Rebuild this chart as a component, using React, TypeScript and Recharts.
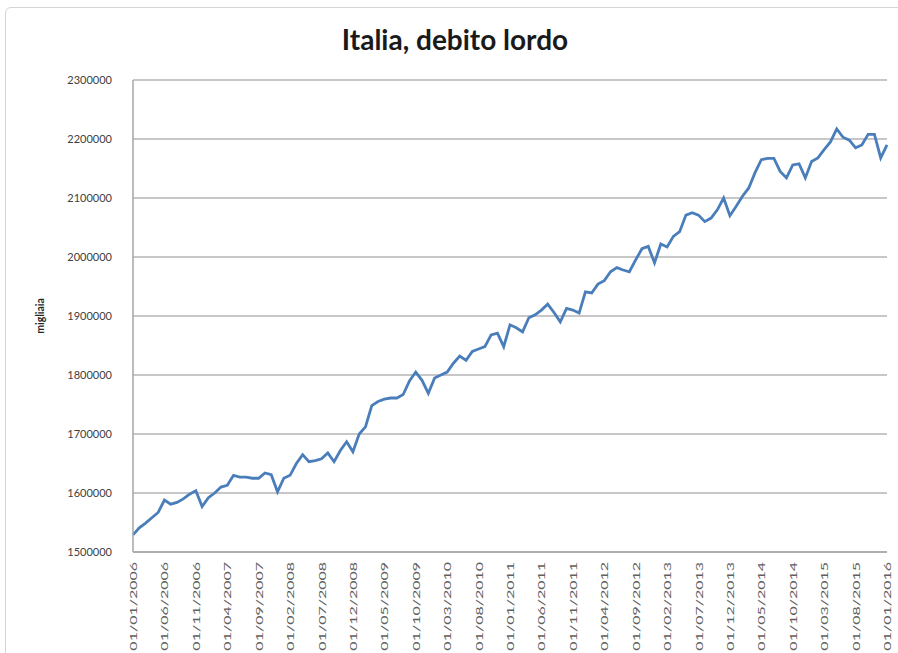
import React from 'react';
import {LineChart, Line, XAxis, YAxis, CartesianGrid} from 'recharts';

// debito lordo, migliaia di euro (mensile, gen 2006 - gen 2016)
const debito = [
  1529000, 1541000, 1549000, 1558000, 1567000, 1588000, 1581000, 1584000, 1590000, 1598000,
  1604000, 1577000, 1592000, 1600000, 1610000, 1613000, 1630000, 1627000, 1627000, 1625000,
  1625000, 1634000, 1631000, 1602000, 1625000, 1630000, 1650000, 1665000, 1653000, 1655000,
  1658000, 1668000, 1653000, 1672000, 1687000, 1670000, 1700000, 1712000, 1748000, 1755000,
  1759000, 1761000, 1761000, 1767000, 1790000, 1805000, 1791000, 1769000, 1795000, 1800000,
  1805000, 1820000, 1832000, 1825000, 1840000, 1844000, 1848000, 1868000, 1871000, 1848000,
  1885000, 1880000, 1873000, 1897000, 1902000, 1910000, 1920000, 1906000, 1890000, 1913000,
  1910000, 1905000, 1941000, 1939000, 1954000, 1960000, 1975000, 1982000, 1978000, 1975000,
  1995000, 2014000, 2018000, 1990000, 2022000, 2017000, 2035000, 2043000, 2071000, 2075000,
  2071000, 2060000, 2066000, 2080000, 2100000, 2070000, 2086000, 2103000, 2117000, 2143000,
  2165000, 2167000, 2167000, 2145000, 2134000, 2156000, 2158000, 2134000, 2162000, 2168000,
  2182000, 2195000, 2217000, 2203000, 2198000, 2185000, 2190000, 2208000, 2208000, 2168000,
  2190000,
];

const yTicks = [1500000, 1600000, 1700000, 1800000, 1900000, 2000000, 2100000, 2200000, 2300000];

const startYear = 2006;
const dates = debito.map((_, i) => {
  const m = (i % 12) + 1;
  const y = startYear + Math.floor(i / 12);
  return `01/${m < 10 ? '0' + m : m}/${y}`;
});

const data = dates.map((d, i) => ({date: d, debito: debito[i]}));

const font = 'Lato, "Open Sans", sans-serif';

const DateTick = (props: any) => {
  const {x, y, payload} = props;
  return (
    <g transform={`translate(${x + 4},${y + 10})`}>
      <text
        transform='rotate(-90) scale(1.6,1)'
        textAnchor='end'
        fontSize={10}
        fontFamily={font}
        fill='#606060'
      >
        {payload.value}
      </text>
    </g>
  );
};

const App = () => {
  return (
    <div style={{position: 'absolute', left: 0, top: 0, width: 898, height: 653, background: '#fff'}}>
      <div
        style={{
          position: 'absolute',
          left: 5,
          top: 7,
          width: 900,
          height: 660,
          border: '1.5px solid #d4d4d4',
          borderRadius: 6,
          boxSizing: 'border-box',
        }}
      />
      <div
        style={{
          position: 'absolute',
          left: 0,
          top: 22,
          width: 910,
          textAlign: 'center',
          fontFamily: font,
          fontWeight: 700,
          fontSize: 28,
          color: '#1a1a1a',
        }}
      >
        Italia, debito lordo
      </div>
      <div style={{position: 'absolute', left: 0, top: 0}}>
        <LineChart
          width={898}
          height={653}
          data={data}
          margin={{top: 80, right: 11, left: 0, bottom: 0}}
        >
          <CartesianGrid vertical={false} stroke='#b5b5b5' strokeWidth={1.5} />
          <XAxis
            dataKey='date'
            interval={4}
            height={101}
            tickLine={false}
            tickSize={0}
            tickMargin={0}
            tick={<DateTick />}
            stroke='#a6a6a6'
            strokeWidth={1.5}
          />
          <YAxis
            domain={[1500000, 2300000]}
            ticks={yTicks}
            width={133}
            tickLine={false}
            tickSize={0}
            tickMargin={21}
            stroke='#a6a6a6'
            strokeWidth={1.5}
            tick={{fontSize: 11, fontFamily: font, fill: '#404040'}}
            label={{
              value: 'migliaia',
              angle: -90,
              position: 'insideLeft',
              offset: 40,
              style: {fontSize: 10.5, fontWeight: 700, fontFamily: font, fill: '#262626', textAnchor: 'middle'},
            }}
          />
          <Line
            type='linear'
            dataKey='debito'
            stroke='#4a7ebb'
            strokeWidth={2.8}
            dot={false}
            isAnimationActive={false}
          />
        </LineChart>
      </div>
    </div>
  );
};

export default App;
